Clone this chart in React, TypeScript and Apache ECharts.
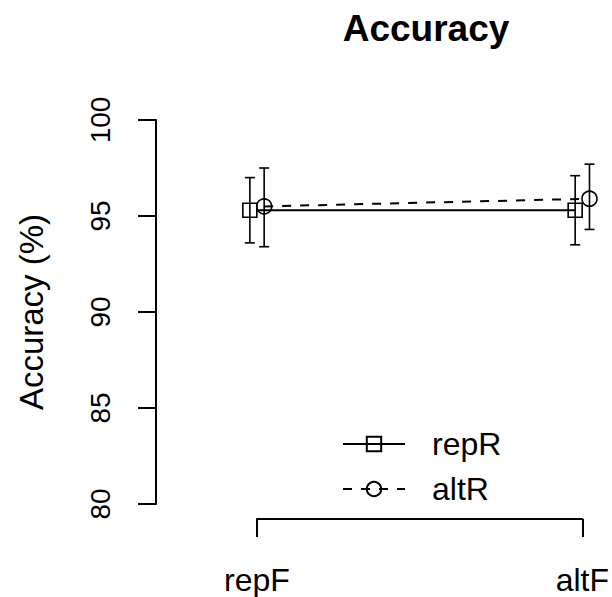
import React, { useEffect, useRef } from "react";
import * as echarts from "echarts";

const categories = ["repF", "altF"];
const seriesNames = ["repR", "altR"];
const repRMean = [95.3, 95.3];
const repRLower = [93.6, 93.5];
const repRUpper = [97.0, 97.1];
const altRMean = [95.5, 95.9];
const altRLower = [93.4, 94.3];
const altRUpper = [97.5, 97.7];
const yTicks = { min: 80, max: 100, step: 5 };

const FONT = "'Liberation Sans', Arial, Helvetica, sans-serif";
const DODGE = 0.022;

export default function App() {
  const ref = useRef<HTMLDivElement>(null);
  useEffect(() => {
    if (!ref.current) return;
    const chart = echarts.init(ref.current, null, { renderer: "svg" });

    const pts = (means: number[], off: number) => means.map((m, i) => [i + off, m]);
    const bars = (lo: number[], hi: number[], off: number) => lo.map((l, i) => [i + off, l, hi[i]]);

    const errStyle = { stroke: "#000", lineWidth: 1.6 };
    const renderErr = (params: any, api: any) => {
      const x = api.value(0);
      const pLo = api.coord([x, api.value(1)]);
      const pHi = api.coord([x, api.value(2)]);
      const w = 5;
      return {
        type: "group",
        children: [
          { type: "line", shape: { x1: pLo[0], y1: pLo[1], x2: pHi[0], y2: pHi[1] }, style: errStyle },
          { type: "line", shape: { x1: pLo[0] - w, y1: pLo[1], x2: pLo[0] + w, y2: pLo[1] }, style: errStyle },
          { type: "line", shape: { x1: pHi[0] - w, y1: pHi[1], x2: pHi[0] + w, y2: pHi[1] }, style: errStyle },
        ],
      };
    };

    chart.setOption({
      animation: false,
      backgroundColor: "#fff",
      textStyle: { fontFamily: FONT },
      title: {
        text: "Accuracy",
        left: 421,
        textAlign: "center",
        top: 5,
        textStyle: { fontSize: 37, fontWeight: "bold", color: "#000", fontFamily: FONT },
      },
      grid: { left: 257, right: 28, top: 120, bottom: 93 },
      xAxis: {
        type: "value",
        min: 0,
        max: 1,
        interval: 1,
        offset: 15,
        axisLine: { show: true, onZero: false, lineStyle: { color: "#000", width: 2 } },
        axisTick: { show: true, length: 18, lineStyle: { color: "#000", width: 2 } },
        splitLine: { show: false },
        axisLabel: {
          showMinLabel: true,
          showMaxLabel: true,
          formatter: (v: number) => categories[Math.round(v)] ?? "",
          fontSize: 32,
          color: "#000",
          margin: 45,
          fontFamily: FONT,
        },
      },
      yAxis: {
        type: "value",
        min: yTicks.min,
        max: yTicks.max,
        interval: yTicks.step,
        offset: 101,
        name: "Accuracy (%)",
        nameLocation: "middle",
        nameRotate: 90,
        nameGap: 108,
        nameTextStyle: { fontSize: 33, color: "#000", fontFamily: FONT },
        axisLine: { show: true, onZero: false, lineStyle: { color: "#000", width: 2 } },
        axisTick: { show: true, length: 18, lineStyle: { color: "#000", width: 2 } },
        splitLine: { show: false },
        axisLabel: { rotate: 90, fontSize: 28, color: "#000", margin: 42, fontFamily: FONT },
      },
      legend: {
        orient: "vertical",
        left: 337,
        top: 423,
        itemWidth: 62,
        itemHeight: 18,
        itemGap: 13,
        data: seriesNames,
        textStyle: { fontSize: 32, lineHeight: 30, color: "#000", padding: [0, 0, 0, 22], fontFamily: FONT },
      },
      series: [
        {
          name: seriesNames[0],
          type: "line",
          data: pts(repRMean, -DODGE),
          symbol: "rect",
          symbolSize: 14,
          clip: false,
          lineStyle: { color: "#000", width: 2, type: "solid" },
          itemStyle: { color: "none", borderColor: "#000", borderWidth: 1.6 },
          z: 3,
        },
        {
          name: seriesNames[1],
          type: "line",
          data: pts(altRMean, DODGE),
          symbol: "circle",
          symbolSize: 15,
          clip: false,
          lineStyle: { color: "#000", width: 2, type: [9, 9] },
          itemStyle: { color: "none", borderColor: "#000", borderWidth: 1.6 },
          z: 3,
        },
        {
          type: "custom",
          name: "repR_err",
          data: bars(repRLower, repRUpper, -DODGE),
          encode: { x: 0, y: [1, 2] },
          renderItem: renderErr,
          clip: false,
          z: 2,
        },
        {
          type: "custom",
          name: "altR_err",
          data: bars(altRLower, altRUpper, DODGE),
          encode: { x: 0, y: [1, 2] },
          renderItem: renderErr,
          clip: false,
          z: 2,
        },
      ],
    });
    return () => chart.dispose();
  }, []);
  return (
    <div
      ref={ref}
      style={{ position: "fixed", left: 0, top: 0, width: 612, height: 597, background: "#fff" }}
    />
  );
}
